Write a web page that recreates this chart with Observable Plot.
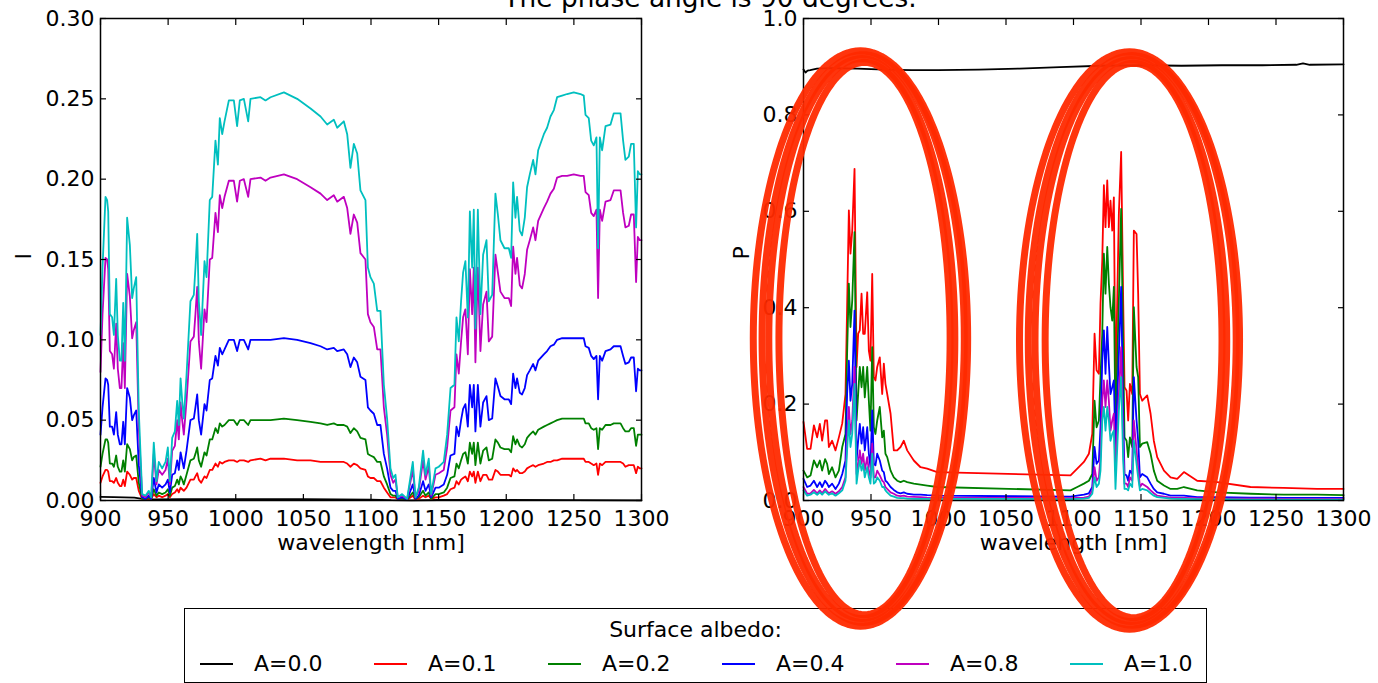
<!DOCTYPE html>
<html><head><meta charset="utf-8">
<script src="https://cdn.jsdelivr.net/npm/d3@7"></script>
<script src="https://cdn.jsdelivr.net/npm/@observablehq/plot@0.6"></script>
<style>
html,body{margin:0;padding:0;background:#fff;}
#fig{position:relative;width:1378px;height:683px;overflow:hidden;background:#fff;font-family:"DejaVu Sans",sans-serif;color:#000;}
#title{position:absolute;left:310px;width:800px;top:-15px;text-align:center;font-size:26.4px;line-height:26.4px;white-space:nowrap;}
.panel{position:absolute;top:0;}
#legend{position:absolute;left:184px;top:608px;width:1023px;height:75px;border:1px solid #000;box-sizing:border-box;font-size:22px;line-height:22px;}
#legend .lt{position:absolute;left:0;width:100%;top:10px;text-align:center;white-space:nowrap;}
#legend .sw{position:absolute;top:54px;width:33px;height:2px;}
#legend .lb{position:absolute;top:44px;white-space:nowrap;}
</style></head>
<body>
<div id="fig">
  <div id="legend"></div>
  <div id="left" class="panel" style="left:0px"></div>
  <div id="right" class="panel" style="left:703px"></div>
  <div id="title">The phase angle is 90 degrees.</div>
</div>
<script>
// ---------- categories / ticks ----------
const albedos = ["0.0","0.1","0.2","0.4","0.8","1.0"];
const colors = ["#000000","#ff0000","#008000","#0000ff","#bf00bf","#00bfbf"];
const xTicks = [900,950,1000,1050,1100,1150,1200,1250,1300];
const iTicks = [0,0.05,0.10,0.15,0.20,0.25,0.30];
const pTicks = [0,0.2,0.4,0.6,0.8,1.0];

// ---------- left panel: intensity I ----------
const wlI0 = [900,910,925,932,940,960,1000,1050,1100,1115,1130,1150,1200,1250,1300];
const I_A00 = [0.0022,0.0021,0.0018,0.0008,0.0007,0.0009,0.0009,0.0008,0.0006,0.0002,0.0001,0.0003,0.0003,0.0002,0.0001];
const wlI = [
900,901.5,903.7,904.9,905.7,906.9,908.6,909.9,911.6,912.8,
914.3,915.5,916.8,918.0,919.7,921.7,923.4,924.6,926.4,928.3,
930.8,933.3,935.7,937.5,939.4,941.4,943.1,945.6,948.1,949.8,
951.3,953.0,955.0,956.7,957.9,959.2,960.4,961.6,963.6,966.5,
969.0,970.2,971.5,972.7,974.4,976.9,978.4,980.8,982.6,985.0,
986.8,988.2,990.0,991.7,994.9,998.6,1001.0,1003.0,1006.0,1009.2,
1010.9,1018.3,1022.0,1025.7,1035.6,1045.4,1055.3,1062.7,1067.6,1072.5,
1075.0,1079.9,1082.4,1084.8,1087.3,1089.8,1092.2,1095.9,1097.7,1099.6,
1102.1,1104.6,1107.0,1109.5,1111.9,1114.4,1116.4,1118.1,1119.8,1123.0,
1126.7,1130.9,1132.9,1135.3,1138.5,1140.3,1142.7,1144.5,1147.7,1150.1,
1153.8,1156.3,1158.8,1161.7,1163.2,1164.9,1166.6,1168.1,1169.8,1171.6,
1173.1,1174.8,1176.0,1177.2,1179.0,1180.9,1182.9,1185.4,1187.1,1189.6,
1192.0,1193.8,1195.7,1198.7,1201.9,1203.6,1205.1,1206.8,1208.0,1210.0,
1211.7,1213.7,1215.4,1217.4,1219.9,1221.6,1223.6,1227.8,1230.2,1232.7,
1235.2,1237.6,1241.3,1245.0,1249.9,1254.9,1257.3,1258.6,1261.0,1262.8,
1264.7,1266.7,1267.9,1269.2,1270.9,1273.4,1277.1,1279.5,1282.5,1284.5,
1286.4,1288.1,1290.6,1292.3,1294.3,1296.0,1297.3,1298.7,1300];
const I_A01 = [
0.011,0.015,0.019,0.019,0.018,0.012,0.012,0.011,0.014,0.011,
0.009,0.009,0.013,0.009,0.018,0.016,0.013,0.014,0.014,0.006,
0.001,0.001,0.001,0.001,0.004,0.002,0.003,0.002,0.003,0.004,
0.002,0.004,0.005,0.007,0.005,0.008,0.007,0.006,0.008,0.013,
0.013,0.015,0.017,0.013,0.011,0.015,0.014,0.019,0.019,0.023,
0.021,0.024,0.023,0.024,0.025,0.025,0.024,0.025,0.025,0.024,
0.025,0.026,0.025,0.026,0.026,0.025,0.025,0.024,0.024,0.024,
0.024,0.024,0.023,0.021,0.023,0.022,0.020,0.019,0.015,0.014,
0.014,0.012,0.012,0.008,0.005,0.002,0.002,0.002,0.0005,0.001,
0.0005,0.003,0.0005,0.001,0.003,0.002,0.003,0.001,0.002,0.002,
0.003,0.004,0.007,0.008,0.012,0.010,0.013,0.014,0.015,0.012,
0.018,0.015,0.018,0.011,0.018,0.012,0.016,0.016,0.013,0.013,
0.019,0.018,0.016,0.016,0.016,0.015,0.020,0.018,0.019,0.017,
0.017,0.018,0.020,0.021,0.022,0.021,0.022,0.023,0.024,0.024,
0.025,0.025,0.026,0.026,0.026,0.026,0.026,0.024,0.024,0.023,
0.022,0.023,0.016,0.023,0.022,0.024,0.024,0.024,0.024,0.024,
0.023,0.021,0.022,0.022,0.022,0.017,0.021,0.020,0.020];
const I_A02 = [
0.021,0.029,0.038,0.038,0.036,0.023,0.023,0.021,0.028,0.021,
0.018,0.018,0.025,0.018,0.035,0.032,0.025,0.027,0.028,0.011,
0.001,0.001,0.002,0.001,0.007,0.003,0.005,0.004,0.005,0.007,
0.003,0.008,0.009,0.013,0.010,0.015,0.013,0.010,0.016,0.025,
0.026,0.029,0.033,0.025,0.021,0.030,0.028,0.038,0.038,0.045,
0.042,0.048,0.046,0.047,0.050,0.050,0.047,0.050,0.050,0.047,
0.050,0.050,0.050,0.050,0.051,0.050,0.049,0.048,0.047,0.048,
0.047,0.047,0.046,0.042,0.045,0.043,0.039,0.038,0.029,0.028,
0.027,0.024,0.024,0.015,0.010,0.004,0.003,0.003,0.001,0.001,
0.0005,0.005,0.001,0.002,0.006,0.003,0.005,0.001,0.004,0.004,
0.005,0.008,0.014,0.015,0.023,0.020,0.025,0.029,0.030,0.023,
0.036,0.029,0.036,0.022,0.036,0.023,0.031,0.033,0.025,0.026,
0.038,0.036,0.033,0.032,0.032,0.030,0.040,0.035,0.038,0.034,
0.033,0.035,0.039,0.041,0.043,0.041,0.044,0.046,0.047,0.048,
0.049,0.050,0.051,0.051,0.051,0.051,0.051,0.048,0.048,0.045,
0.044,0.045,0.032,0.045,0.044,0.047,0.047,0.048,0.048,0.048,
0.045,0.043,0.043,0.045,0.045,0.034,0.041,0.041,0.041];
const I_A04 = [
0.041,0.058,0.076,0.075,0.072,0.046,0.046,0.041,0.055,0.041,
0.035,0.035,0.049,0.035,0.070,0.064,0.050,0.053,0.056,0.022,
0.002,0.001,0.003,0.001,0.014,0.005,0.010,0.008,0.010,0.013,
0.005,0.016,0.017,0.025,0.019,0.030,0.025,0.020,0.031,0.050,
0.051,0.058,0.066,0.050,0.041,0.060,0.056,0.075,0.076,0.090,
0.084,0.095,0.091,0.094,0.100,0.100,0.093,0.100,0.100,0.094,
0.100,0.100,0.100,0.100,0.101,0.100,0.098,0.096,0.094,0.095,
0.093,0.094,0.091,0.083,0.089,0.086,0.077,0.075,0.058,0.056,
0.054,0.047,0.047,0.029,0.020,0.008,0.006,0.006,0.001,0.002,
0.0005,0.010,0.001,0.003,0.012,0.006,0.010,0.002,0.008,0.008,
0.010,0.016,0.028,0.029,0.046,0.040,0.050,0.057,0.060,0.046,
0.072,0.058,0.072,0.043,0.072,0.046,0.061,0.065,0.050,0.051,
0.076,0.071,0.065,0.063,0.063,0.060,0.079,0.070,0.076,0.067,
0.066,0.070,0.078,0.081,0.085,0.081,0.087,0.091,0.093,0.096,
0.097,0.100,0.101,0.101,0.101,0.101,0.101,0.096,0.095,0.090,
0.088,0.090,0.063,0.090,0.087,0.093,0.094,0.096,0.096,0.096,
0.090,0.085,0.086,0.089,0.089,0.068,0.082,0.081,0.081];
const I_A08 = [
0.080,0.116,0.151,0.150,0.144,0.093,0.091,0.082,0.110,0.082,
0.070,0.070,0.098,0.070,0.141,0.127,0.101,0.106,0.111,0.045,
0.003,0.002,0.005,0.002,0.029,0.010,0.019,0.016,0.019,0.026,
0.010,0.031,0.034,0.050,0.038,0.061,0.050,0.041,0.062,0.099,
0.102,0.116,0.133,0.099,0.082,0.119,0.111,0.150,0.151,0.179,
0.167,0.190,0.182,0.189,0.199,0.199,0.186,0.199,0.200,0.189,
0.200,0.201,0.199,0.201,0.203,0.200,0.195,0.191,0.187,0.190,
0.186,0.189,0.182,0.166,0.178,0.173,0.154,0.150,0.116,0.111,
0.108,0.094,0.094,0.058,0.041,0.016,0.011,0.013,0.002,0.003,
0.001,0.019,0.002,0.006,0.025,0.013,0.021,0.003,0.016,0.017,
0.019,0.033,0.056,0.058,0.091,0.079,0.099,0.114,0.119,0.091,
0.144,0.116,0.145,0.086,0.145,0.093,0.122,0.130,0.099,0.102,
0.153,0.142,0.130,0.126,0.126,0.121,0.158,0.141,0.151,0.134,
0.132,0.141,0.156,0.162,0.170,0.162,0.174,0.182,0.186,0.191,
0.194,0.201,0.202,0.202,0.203,0.202,0.202,0.192,0.190,0.179,
0.177,0.181,0.126,0.181,0.174,0.186,0.187,0.193,0.193,0.193,
0.179,0.170,0.171,0.178,0.178,0.136,0.164,0.162,0.162];
const I_A10 = [
0.103,0.145,0.189,0.187,0.180,0.116,0.114,0.103,0.138,0.103,
0.087,0.087,0.123,0.087,0.176,0.159,0.126,0.132,0.139,0.056,
0.004,0.003,0.006,0.002,0.036,0.012,0.024,0.020,0.024,0.033,
0.012,0.039,0.043,0.062,0.047,0.076,0.062,0.051,0.078,0.124,
0.128,0.145,0.166,0.124,0.103,0.149,0.139,0.187,0.189,0.224,
0.209,0.238,0.228,0.236,0.249,0.249,0.233,0.249,0.250,0.236,
0.250,0.251,0.249,0.251,0.254,0.250,0.244,0.239,0.234,0.237,
0.232,0.236,0.228,0.207,0.222,0.216,0.193,0.187,0.145,0.139,
0.135,0.118,0.118,0.072,0.051,0.020,0.014,0.016,0.002,0.004,
0.001,0.024,0.002,0.008,0.031,0.016,0.026,0.004,0.020,0.021,
0.024,0.041,0.070,0.072,0.114,0.099,0.124,0.142,0.149,0.114,
0.180,0.145,0.181,0.107,0.181,0.116,0.153,0.162,0.124,0.128,
0.191,0.178,0.162,0.157,0.157,0.151,0.198,0.176,0.189,0.168,
0.165,0.176,0.195,0.203,0.212,0.203,0.218,0.228,0.232,0.239,
0.243,0.251,0.252,0.253,0.254,0.253,0.252,0.240,0.238,0.224,
0.221,0.226,0.157,0.226,0.218,0.233,0.234,0.241,0.241,0.241,
0.224,0.212,0.214,0.222,0.222,0.170,0.205,0.203,0.203];

// ---------- right panel: polarization P ----------
const wlP0 = [900,901.5,903,905,910,920,940,960,980,1000,1030,1060,1090,1120,1150,1180,1210,1240,1265,1270,1275,1300];
const P_A00 = [0.894,0.888,0.892,0.893,0.896,0.897,0.896,0.894,0.893,0.893,0.894,0.896,0.899,0.902,0.903,0.902,0.903,0.903,0.904,0.907,0.904,0.905];
const wlP = [
900,902.7,905.2,907.7,910.1,912.1,913.8,916,917.5,918.8,
921.2,923.7,926.2,928.7,931.1,932.3,933.6,934.8,936.1,937.8,
939.3,940.5,941.7,943,944.2,945.4,947.2,948.4,949.6,950.9,
952.1,953.3,954.6,956.5,958.3,959.5,960.7,962,964.5,966.9,
969.4,971.9,974.3,976.8,981.7,986.7,991.6,999,1097.8,1102.8,
1107.7,1111.4,1113.9,1115.6,1117.1,1118.8,1120,1121.3,1122.5,1123.7,
1125,1126.2,1127.4,1128.7,1129.9,1131.1,1133.6,1135.3,1136.8,1137.8,
1139.3,1140.5,1141.8,1143.5,1144.7,1146.7,1147.9,1149.2,1150.9,1154.6,
1157.1,1159.5,1162,1167,1171.9,1176.8,1181.8,1191.6,1206.5,1231.1,
1255.8,1280.5,1300];
const P_A01 = [
0.163,0.107,0.107,0.156,0.131,0.159,0.124,0.166,0.166,0.111,
0.124,0.104,0.131,0.160,0.221,0.401,0.602,0.512,0.560,0.688,
0.277,0.346,0.353,0.429,0.346,0.346,0.432,0.311,0.290,0.470,
0.256,0.249,0.277,0.297,0.221,0.284,0.242,0.221,0.180,0.104,
0.104,0.111,0.124,0.104,0.083,0.069,0.066,0.059,0.052,0.066,
0.080,0.097,0.138,0.346,0.270,0.263,0.408,0.498,0.654,0.567,
0.664,0.567,0.622,0.560,0.629,0.221,0.595,0.723,0.415,0.235,
0.228,0.166,0.242,0.221,0.560,0.553,0.429,0.221,0.207,0.218,
0.180,0.124,0.090,0.062,0.048,0.045,0.059,0.041,0.038,0.028,
0.026,0.024,0.024];
const P_A02 = [
0.062,0.048,0.052,0.083,0.069,0.083,0.062,0.086,0.076,0.055,
0.069,0.048,0.062,0.111,0.138,0.304,0.450,0.360,0.415,0.557,
0.166,0.221,0.277,0.235,0.277,0.214,0.277,0.207,0.145,0.318,
0.152,0.138,0.166,0.194,0.131,0.145,0.097,0.090,0.062,0.048,
0.041,0.038,0.041,0.038,0.035,0.033,0.031,0.028,0.021,0.028,
0.035,0.041,0.055,0.207,0.152,0.166,0.256,0.346,0.512,0.429,
0.526,0.450,0.401,0.373,0.443,0.152,0.415,0.605,0.311,0.131,
0.124,0.090,0.131,0.111,0.401,0.277,0.256,0.111,0.118,0.121,
0.097,0.062,0.041,0.031,0.024,0.024,0.028,0.021,0.017,0.014,
0.012,0.012,0.011];
const P_A04 = [
0.045,0.028,0.031,0.041,0.028,0.038,0.028,0.041,0.035,0.028,
0.035,0.024,0.035,0.055,0.083,0.221,0.290,0.207,0.242,0.394,
0.083,0.124,0.159,0.118,0.152,0.104,0.152,0.097,0.069,0.187,
0.076,0.073,0.097,0.083,0.062,0.059,0.041,0.038,0.028,0.022,
0.017,0.015,0.017,0.014,0.012,0.012,0.011,0.010,0.008,0.010,
0.012,0.015,0.028,0.111,0.076,0.083,0.152,0.290,0.353,0.263,
0.360,0.284,0.221,0.235,0.249,0.111,0.304,0.443,0.173,0.055,
0.052,0.041,0.062,0.055,0.256,0.166,0.124,0.048,0.055,0.048,
0.035,0.024,0.017,0.014,0.010,0.010,0.010,0.007,0.007,0.006,
0.0055,0.0055,0.0055];
const P_A08 = [
0.028,0.014,0.015,0.022,0.015,0.021,0.015,0.024,0.019,0.015,
0.019,0.014,0.019,0.028,0.048,0.131,0.194,0.138,0.166,0.277,
0.055,0.076,0.104,0.076,0.097,0.062,0.090,0.062,0.048,0.118,
0.048,0.048,0.062,0.052,0.041,0.038,0.028,0.024,0.017,0.014,
0.010,0.009,0.010,0.008,0.0075,0.007,0.006,0.0055,0.005,0.0055,
0.006,0.008,0.021,0.069,0.041,0.048,0.090,0.207,0.249,0.194,
0.249,0.207,0.145,0.166,0.180,0.062,0.221,0.318,0.118,0.035,
0.035,0.028,0.048,0.041,0.166,0.104,0.069,0.028,0.035,0.028,
0.021,0.015,0.010,0.008,0.006,0.0055,0.0055,0.005,0.004,0.004,
0.0035,0.0035,0.0035];
const P_A10 = [
0.021,0.010,0.012,0.017,0.012,0.017,0.012,0.019,0.015,0.012,
0.015,0.010,0.015,0.021,0.041,0.104,0.166,0.111,0.138,0.242,
0.035,0.062,0.083,0.062,0.076,0.048,0.069,0.048,0.035,0.097,
0.035,0.038,0.048,0.041,0.028,0.028,0.021,0.017,0.010,0.008,
0.0055,0.005,0.005,0.004,0.0035,0.0035,0.0035,0.0035,0.003,0.0035,
0.004,0.0055,0.014,0.048,0.028,0.035,0.062,0.166,0.194,0.145,
0.194,0.166,0.124,0.138,0.145,0.024,0.187,0.256,0.083,0.024,
0.024,0.021,0.035,0.028,0.124,0.076,0.048,0.021,0.024,0.021,
0.015,0.010,0.007,0.0055,0.004,0.0035,0.0035,0.003,0.003,0.002,
0.002,0.002,0.002];

// ---------- red hand-drawn annotation rings (in right-panel data units) ----------
const ringWl = [943.7, 1143.0];
const ringP = [0.336, 0.332];
const ringRadiusWl = [71.9, 74.0];
const ringRadiusP = [0.585, 0.587];
const loopDRadiusWl = [-8.5, -3.0, 3.0, 7.5];
const loopDRadiusP = [-0.012, -0.004, 0.004, 0.012];
const loopShiftWl = [1.5, -0.5, 0.5, -1.5];

// ---------- build tables ----------
function rows(wl, vals, a) { return wl.map((w, i) => ({wl: w, v: vals[i], a})); }
const leftRows = [
  ...rows(wlI0, I_A00, albedos[0]), ...rows(wlI, I_A01, albedos[1]), ...rows(wlI, I_A02, albedos[2]),
  ...rows(wlI, I_A04, albedos[3]), ...rows(wlI, I_A08, albedos[4]), ...rows(wlI, I_A10, albedos[5])
];
const rightRows = [
  ...rows(wlP0, P_A00, albedos[0]), ...rows(wlP, P_A01, albedos[1]), ...rows(wlP, P_A02, albedos[2]),
  ...rows(wlP, P_A04, albedos[3]), ...rows(wlP, P_A08, albedos[4]), ...rows(wlP, P_A10, albedos[5])
];
const ringRows = [];
const N = 160;
ringWl.forEach((cw, r) => {
  loopDRadiusWl.forEach((dw, k) => {
    for (let j = 0; j <= N; j++) {
      const t = 2 * Math.PI * j / N;
      ringRows.push({
        id: r + "-" + k,
        wl: cw + loopShiftWl[k] + (ringRadiusWl[r] + dw) * Math.cos(t),
        v: ringP[r] + (ringRadiusP[r] + loopDRadiusP[k]) * Math.sin(t)
      });
    }
  });
});

const FONT = "DejaVu Sans";
function axes(yTicks, yFmt) {
  return [
    Plot.axisX({anchor: "bottom", ticks: xTicks, tickSize: 6, dy: -6, text: null, label: null, strokeWidth: 1.2}),
    Plot.axisX({anchor: "top", ticks: xTicks, tickSize: 6, dy: 6, text: null, label: null, strokeWidth: 1.2}),
    Plot.axisY({anchor: "left", ticks: yTicks, tickSize: 6, dx: 6, text: null, label: null, strokeWidth: 1.2}),
    Plot.axisY({anchor: "right", ticks: yTicks, tickSize: 6, dx: -6, text: null, label: null, strokeWidth: 1.2}),
    Plot.axisX({anchor: "bottom", ticks: xTicks, tickSize: 0, tickPadding: 10, tickFormat: d => String(d), label: null}),
    Plot.axisY({anchor: "left", ticks: yTicks, tickSize: 0, tickPadding: 6, tickFormat: yFmt, label: null}),
    Plot.frame({stroke: "black", strokeWidth: 1.5})
  ];
}
const common = {
  height: 683, marginTop: 18, marginBottom: 183, marginLeft: 100, marginRight: 20,
  color: {domain: albedos, range: colors},
  style: {fontFamily: FONT, fontSize: "22px", background: "transparent", color: "black", overflow: "visible"}
};

const leftPlot = Plot.plot({
  ...common, width: 661,
  x: {domain: [900, 1300]},
  y: {domain: [0, 0.30]},
  marks: [
    Plot.line(leftRows, {x: "wl", y: "v", z: "a", stroke: "a", strokeWidth: 1.8}),
    ...axes(iTicks, d3.format(".2f")),
    Plot.text(["I"], {text: d => d, frameAnchor: "left", dx: -77, rotate: -90, fontSize: 22, fill: "black"}),
    Plot.text(["wavelength [nm]"], {text: d => d, frameAnchor: "bottom", dy: 49, fontSize: 22, fill: "black"})
  ]
});
document.getElementById("left").appendChild(leftPlot);

const rightPlot = Plot.plot({
  ...common, width: 660,
  x: {domain: [900, 1300]},
  y: {domain: [0, 1.0]},
  marks: [
    Plot.line(rightRows, {x: "wl", y: "v", z: "a", stroke: "a", strokeWidth: 1.8}),
    ...axes(pTicks, d3.format(".1f")),
    Plot.text(["P"], {text: d => d, frameAnchor: "left", dx: -62, rotate: -90, fontSize: 22, fill: "black"}),
    Plot.text(["wavelength [nm]"], {text: d => d, frameAnchor: "bottom", dy: 49, fontSize: 22, fill: "black"}),
    Plot.line(ringRows, {x: "wl", y: "v", z: "id", stroke: "#ff2a00", strokeWidth: 7, strokeOpacity: 0.95})
  ]
});
document.getElementById("right").appendChild(rightPlot);

// ---------- legend ----------
const legend = document.getElementById("legend");
const lt = document.createElement("div");
lt.className = "lt"; lt.textContent = "Surface albedo:";
legend.appendChild(lt);
albedos.forEach((a, i) => {
  const sw = document.createElement("div");
  sw.className = "sw"; sw.style.left = (15 + 174 * i) + "px"; sw.style.background = colors[i];
  legend.appendChild(sw);
  const lb = document.createElement("div");
  lb.className = "lb"; lb.style.left = (69 + 174 * i) + "px"; lb.textContent = "A=" + a;
  legend.appendChild(lb);
});
</script>
</body></html>
